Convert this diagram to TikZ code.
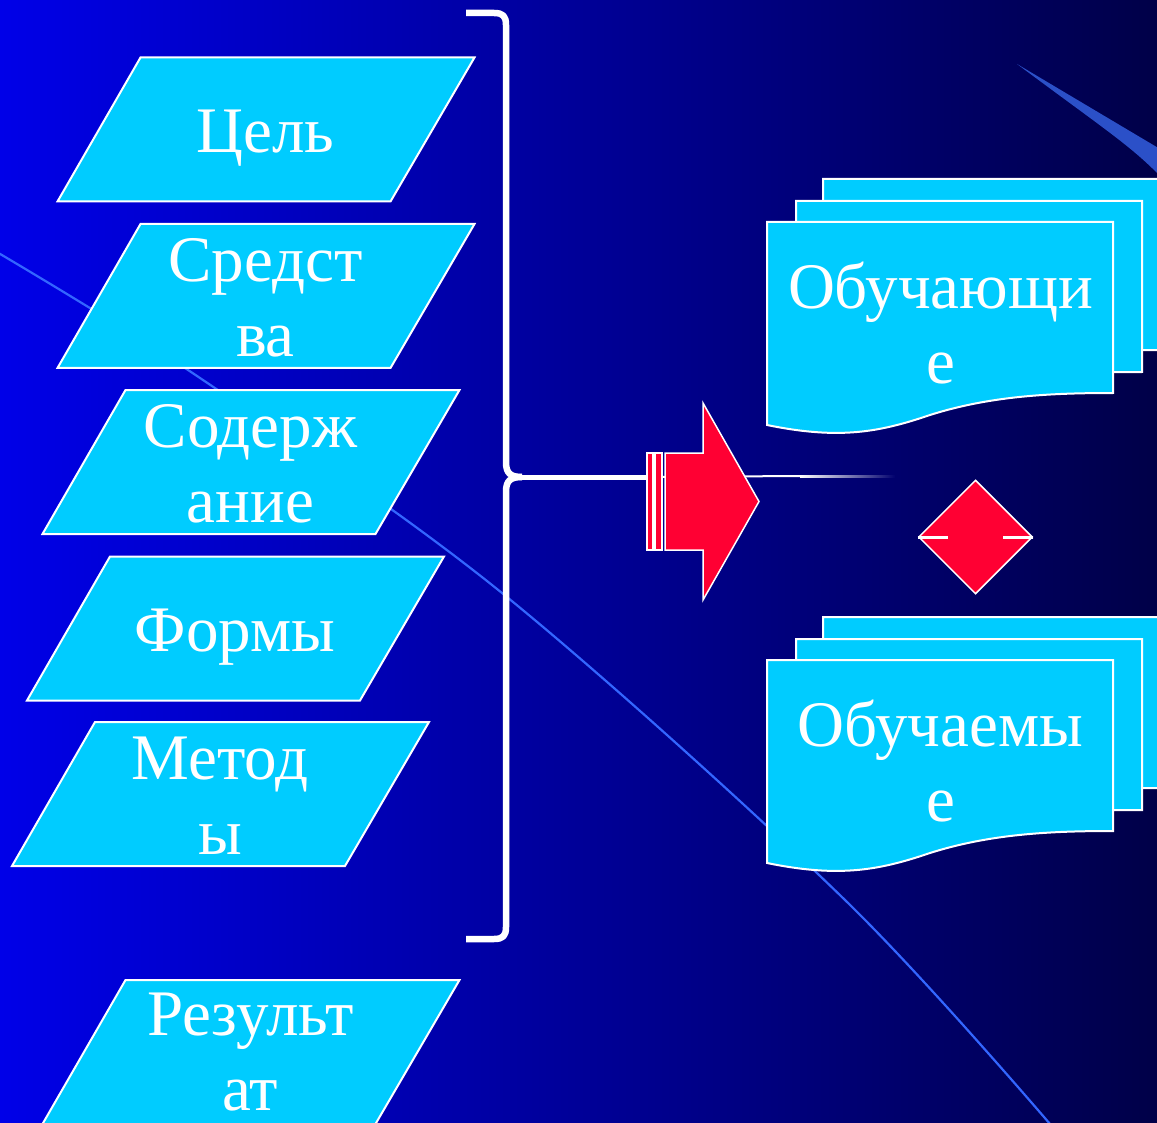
\documentclass[tikz,border=0pt]{standalone}
\usepackage{fontspec}
\setmainfont{Liberation Serif}
\usetikzlibrary{shapes.geometric}
\definecolor{bgL}{RGB}{0,0,232}
\definecolor{bgR}{RGB}{0,0,72}
\definecolor{bgMid}{RGB}{0,0,110}
\definecolor{cyanbox}{RGB}{0,204,255}
\definecolor{redfill}{RGB}{255,0,51}
\definecolor{curvecol}{RGB}{51,102,255}
\definecolor{cometcol}{RGB}{43,80,200}
\tikzset{
  parashape/.style={fill=cyanbox, draw=white, line width=2pt, line join=miter},
  boxtext/.style={text=white, font=\fontsize{65}{75}\selectfont, align=center, inner sep=0pt, text depth=0pt},
  docbox/.style={fill=cyanbox, draw=white, line width=2pt, line join=miter},
  redshape/.style={fill=redfill, draw=white, line width=1.5pt, line join=miter},
  curveline/.style={draw=curvecol, line width=2.2pt},
  bracestyle/.style={draw=white, line width=6.5pt, line join=round, line cap=butt},
}
\newcommand\paragon[2]{%
  \draw[parashape] ({#1-125},{#2-72}) -- ({#1+209},{#2-72}) -- ({#1+125},{#2+72}) -- ({#1-208},{#2+72}) -- cycle;}
\newcommand\docpage[2]{%
  \draw[docbox] (#1,#2) -- ({#1+346},#2) -- ({#1+346},{#2+171})
    .. controls ({#1+283},{#2+171}) and ({#1+223},{#2+174}) .. ({#1+163},{#2+193})
    .. controls ({#1+113},{#2+210}) and ({#1+73},{#2+218}) .. (#1,{#2+203}) -- cycle;}
\begin{document}
\begin{tikzpicture}[x=1pt,y=-1pt]
\useasboundingbox (0,0) rectangle (1157,1123);
\clip (0,0) rectangle (1157,1123);
% background
\shade[left color=bgL, right color=bgR] (0,0) rectangle (1157,1123);
% decorative curve
\draw[curveline] plot[smooth, tension=0.55] coordinates {(-10,248) (200,378) (502,593) (845,900) (1062,1138)};
% comet
\fill[cometcol] (1017,64) -- (1160,149) -- (1160,176) .. controls (1130,145) and (1100,126) .. (1017,64) -- cycle;
% parallelograms
\paragon{265.5}{129.5}
\paragon{265.5}{296}
\paragon{250.5}{462}
\paragon{235}{628.5}
\paragon{220}{794}
\paragon{250.5}{1052}
\node[boxtext] (goal) at (265.5,131) {Цель};
\node[boxtext] (means) at (265.5,297) {Средст\\ва};
\node[boxtext] (content) at (250.5,463) {Содерж\\ание};
\node[boxtext] (forms) at (235,630) {Формы};
\node[boxtext] (methods) at (220,796) {Метод\\ы};
\node[boxtext] (result) at (250.5,1052) {Результ\\ат};
% brace
\coordinate (bracetip) at (522,477);
\draw[bracestyle] (466,13) -- (494,13) .. controls (503,13) and (506,16) .. (506,25) -- (506,462)
   .. controls (506,473) and (510,477) .. (bracetip);
\draw[bracestyle] (466,939) -- (494,939) .. controls (503,939) and (506,936) .. (506,927) -- (506,492)
   .. controls (506,481) and (510,477) .. (bracetip);
% connector from brace to arrow
\coordinate (arrowtail) at (650,477);
\coordinate (lineend) at (800,476);
\draw[white, line width=5pt] (bracetip) -- (arrowtail);
\draw[white, line width=2pt] (arrowtail) -- (lineend);
\shade[left color=white, right color=bgMid] (800,475) rectangle (895,477);
% red arrow
\draw[redshape] (647,453) rectangle (653,550);
\draw[redshape] (655,453) rectangle (662,550);
\draw[redshape] (665,453) -- (703,453) -- (703,403) -- (759,501.5) -- (703,600) -- (703,550) -- (665,550) -- cycle;
% diamond
\node[diamond, fill=redfill, draw=white, line width=1.5pt, minimum width=114pt, minimum height=114pt, inner sep=0pt] (dia) at (975.5,537) {};
\draw[white, line width=3pt] (dia.west) -- ++(30,0);
\draw[white, line width=3pt] (dia.east) -- ++(-30,0);
% upper document stack
\docpage{823}{179}
\docpage{796}{201}
\docpage{767}{222}
\node[boxtext] (teachers) at (940.5,323) {Обучающи\\е};
% lower document stack
\docpage{823}{617}
\docpage{796}{639}
\docpage{767}{660}
\node[boxtext] (learners) at (940.5,761) {Обучаемы\\е};
\end{tikzpicture}
\end{document}
